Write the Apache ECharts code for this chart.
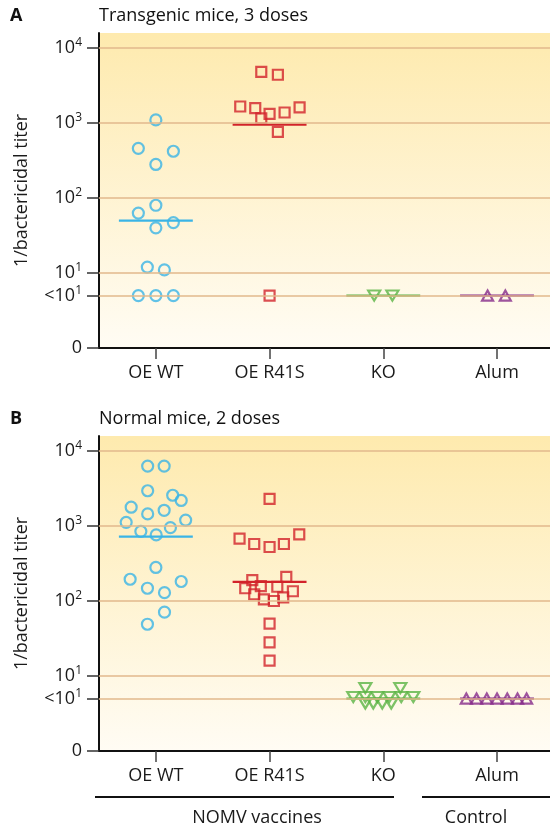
<!DOCTYPE html>
<html><head><meta charset="utf-8">
<script src="https://cdn.jsdelivr.net/npm/echarts@6/dist/echarts.min.js"></script>
<style>html,body{margin:0;padding:0;background:#fff}#c{width:550px;height:831px}</style>
</head><body><div id="c"></div><script>
// ---------- data ----------
const categories = ['OE WT', 'OE R41S', 'KO', 'Alum'];
const yTickPositions = [0, 0.699, 1, 2, 3, 4];          // log10 positions
const yTickLabels = ['0', '<10^1', '10^1', '10^2', '10^3', '10^4'];
const gridLineValues = [0.699, 1, 2, 3, 4];

// Panel A: transgenic mice, 3 doses (titers; "<10" plotted as 5)
const aWtTiter   = [1100, 460, 420, 280, 63, 80, 40, 47, 12, 11, 5, 5, 5];
const aWtOffset  = [0, -0.154, 0.154, 0, -0.154, 0, 0, 0.154, -0.075, 0.075, -0.154, 0, 0.154];
const aR41Titer  = [4800, 4400, 1660, 1580, 1320, 1150, 1380, 1620, 760, 5];
const aR41Offset = [-0.073, 0.073, -0.258, -0.126, 0, -0.073, 0.132, 0.264, 0.073, 0];
const aKoTiter   = [5, 5];
const aKoOffset  = [-0.08, 0.08];
const aAlumTiter = [5, 5];
const aAlumOffset= [-0.083, 0.073];
const aMedians   = [50, 950, 5, 5];

// Panel B: normal mice, 2 doses
const bWtTiter   = [6300, 6300, 2950, 2570, 2190, 1780, 1450, 1620, 1120, 1200, 850, 760, 950, 280, 195, 148, 129, 182, 71, 49];
const bWtOffset  = [-0.072, 0.073, -0.072, 0.148, 0.223, -0.217, -0.072, 0.073, -0.261, 0.262, -0.132, 0.003, 0.128, 0, -0.226, -0.074, 0.076, 0.223, 0.076, -0.074];
const bR41Titer  = [2300, 680, 575, 525, 575, 775, 190, 210, 148, 158, 155, 135, 123, 105, 100, 112, 50, 28, 16];
const bR41Offset = [0, -0.264, -0.135, 0, 0.126, 0.261, -0.152, 0.147, -0.214, -0.077, 0.068, 0.205, -0.135, -0.05, 0.038, 0.12, 0, 0, 0];
const bKoTiter   = [6.9, 6.9, 5.25, 5.25, 5.25, 5.25, 5.25, 5.25, 4.3, 4.3, 4.3, 4.3];
const bKoOffset  = [-0.158, 0.15, -0.264, -0.158, -0.053, 0.053, 0.158, 0.264, -0.158, -0.088, -0.009, 0.07];
const bAlumTiter = [5, 5, 5, 5, 5, 5, 5];
const bAlumOffset= [-0.27, -0.18, -0.09, 0, 0.09, 0.18, 0.26];
const bMedians   = [720, 180, 5, 5];

const panelTitles = ['Transgenic mice, 3 doses', 'Normal mice, 2 doses'];
const panelLetters = ['A', 'B'];

// ---------- styles ----------
const colors = ['#3ab4e6', '#d2232a', '#5bb445', '#862a8a'];
const symbols = ['circle', 'rect', 'triangle', 'triangle'];
const rotates = [0, 0, 180, 0];
const sizes = [[11, 11], [10, 10], [12, 10], [11, 10]];
const FONT = 'Open Sans';

const panels = [
  { titers: [aWtTiter, aR41Titer, aKoTiter, aAlumTiter], offsets: [aWtOffset, aR41Offset, aKoOffset, aAlumOffset], medians: aMedians },
  { titers: [bWtTiter, bR41Titer, bKoTiter, bAlumTiter], offsets: [bWtOffset, bR41Offset, bKoOffset, bAlumOffset], medians: bMedians }
];

const grad = {
  type: 'linear', x: 0, y: 0, x2: 0, y2: 1,
  colorStops: [{ offset: 0, color: '#feeaae' }, { offset: 1, color: '#fffcf4' }]
};

const gridTops = [33, 436];
const grids = gridTops.map(t => ({ left: 99, right: 0, top: t, height: 315, show: true, borderWidth: 0, backgroundColor: grad }));

const xAxes = [0, 1].map(i => ({
  type: 'value', gridIndex: i, min: -0.5, max: 3.466,
  axisLine: { show: true, onZero: false, lineStyle: { color: '#111', width: 2 } },
  axisTick: { show: true, customValues: [0, 1, 2, 3], length: 11, lineStyle: { color: '#444', width: 1.5 } },
  axisLabel: { customValues: [0, 1, 2, 3], formatter: v => categories[Math.round(v)], fontSize: 18, fontFamily: FONT, color: '#1a1a1a', margin: 16 },
  splitLine: { show: false }
}));

function yFmt(v) {
  const idx = yTickPositions.findIndex(p => Math.abs(p - v) < 1e-6);
  if (idx < 0) return '';
  const parts = yTickLabels[idx].split('^');
  return parts.length > 1 ? '{b|' + parts[0] + '}{s|' + parts[1] + '}' : '{b|' + parts[0] + '}';
}

const yAxes = [0, 1].map(i => ({
  type: 'value', gridIndex: i, min: 0, max: 4.2,
  name: '1/bactericidal titer', nameLocation: 'middle', nameGap: 68,
  nameTextStyle: { fontSize: 18, fontFamily: FONT, color: '#1a1a1a' },
  axisLine: { show: true, onZero: false, lineStyle: { color: '#111', width: 2 } },
  axisTick: { show: true, customValues: yTickPositions, length: 12, lineStyle: { color: '#333', width: 1.5 } },
  axisLabel: {
    customValues: yTickPositions, formatter: yFmt, margin: 17,
    rich: {
      b: { fontSize: 18, fontFamily: FONT, color: '#1a1a1a', lineHeight: 22 },
      s: { fontSize: 12, fontFamily: FONT, color: '#1a1a1a', lineHeight: 12, verticalAlign: 'top' }
    }
  },
  splitLine: { show: false }
}));

const series = [];
panels.forEach((p, pi) => {
  // grid lines
  series.push({
    type: 'line', xAxisIndex: pi, yAxisIndex: pi, data: [], z: 1, silent: true,
    markLine: {
      silent: true, symbol: ['none', 'none'], label: { show: false },
      lineStyle: { color: '#e2b98c', width: 1.5, type: 'solid' },
      data: gridLineValues.map(v => ({ yAxis: v }))
    }
  });
  p.titers.forEach((arr, ci) => {
    series.push({
      type: 'scatter', xAxisIndex: pi, yAxisIndex: pi, z: 4,
      symbol: symbols[ci], symbolSize: sizes[ci], symbolRotate: rotates[ci],
      itemStyle: { color: 'rgba(0,0,0,0)', borderColor: colors[ci], borderWidth: 2.2 },
      data: arr.map((t, k) => [ci + p.offsets[ci][k], Math.log10(t)])
    });
    const m = Math.log10(p.medians[ci]);
    series.push({
      type: 'line', xAxisIndex: pi, yAxisIndex: pi, z: 3, symbol: 'none',
      lineStyle: { color: colors[ci], width: 2.2 },
      data: [[ci - 0.325, m], [ci + 0.325, m]]
    });
  });
});

const graphic = [];
[{ y: 16, i: 0 }, { y: 419, i: 1 }].forEach(({ y, i }) => {
  graphic.push({ type: 'text', x: 10, y: y, style: { text: panelLetters[i], font: 'bold 18px ' + FONT, fill: '#111', verticalAlign: 'middle' } });
  graphic.push({ type: 'text', x: 99, y: y, style: { text: panelTitles[i], font: '18px ' + FONT, fill: '#111', verticalAlign: 'middle' } });
});
graphic.push({ type: 'line', shape: { x1: 95, y1: 797, x2: 394, y2: 797 }, style: { stroke: '#111', lineWidth: 2 } });
graphic.push({ type: 'line', shape: { x1: 422, y1: 797, x2: 552, y2: 797 }, style: { stroke: '#111', lineWidth: 2 } });
graphic.push({ type: 'text', x: 257, y: 818, style: { text: 'NOMV vaccines', font: '18px ' + FONT, fill: '#1a1a1a', align: 'center', verticalAlign: 'middle' } });
graphic.push({ type: 'text', x: 476, y: 818, style: { text: 'Control', font: '18px ' + FONT, fill: '#1a1a1a', align: 'center', verticalAlign: 'middle' } });

const chart = echarts.init(document.getElementById('c'), null, { renderer: 'canvas' });
chart.setOption({ animation: false, backgroundColor: '#fff', grid: grids, xAxis: xAxes, yAxis: yAxes, series, graphic });
</script></body></html>
